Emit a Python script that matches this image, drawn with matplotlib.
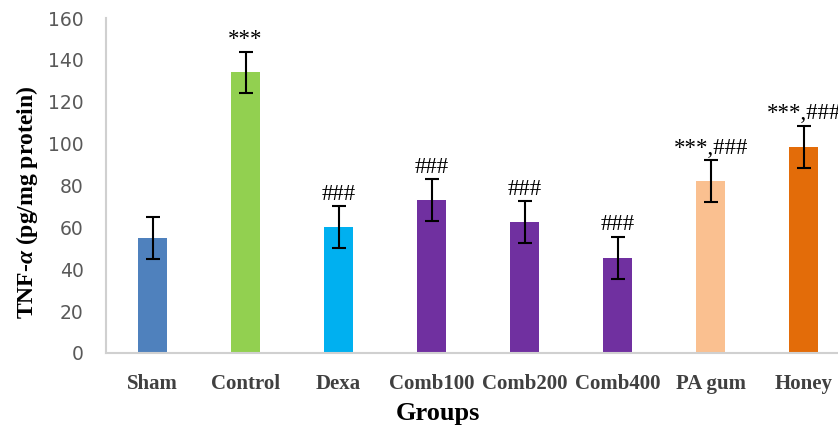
import matplotlib
matplotlib.use("Agg")
import matplotlib.pyplot as plt

groups = ["Sham", "Control", "Dexa", "Comb100", "Comb200", "Comb400", "PA gum", "Honey"]
tnf = [55, 134, 60, 73, 62.5, 45.5, 82, 98.5]
err = [10, 10, 10, 10, 10, 10, 10, 10]
marks = ["", "***", "###", "###", "###", "###", "***,###", "***,###"]
colors = ["#4F81BD", "#92D050", "#00B0F0", "#7030A0", "#7030A0", "#7030A0", "#FAC090", "#E36C09"]

plt.rcParams['mathtext.fontset'] = 'custom'
plt.rcParams['mathtext.it'] = 'Liberation Serif:bold:italic'
plt.rcParams['mathtext.rm'] = 'Liberation Serif:bold'

fig = plt.figure(figsize=(8.38, 4.30), dpi=100)
ax = fig.add_axes([106/838, 77/430, 1 - 106/838, 335/430])

x = range(len(groups))
ax.bar(x, tnf, width=0.32, color=colors, yerr=err,
	error_kw=dict(ecolor="black", elinewidth=1.5, capsize=5, capthick=1.5))

for i in x:
	if marks[i]:
		ax.annotate(marks[i], (i, tnf[i] + err[i]), xytext=(0, 1), textcoords="offset points",
			ha="center", va="bottom", fontsize=16.5, family="Liberation Serif")

ax.set_ylim(0, 160)
ax.set_xlim(-0.5, 7.37)
ax.set_yticks(range(0, 161, 20))
ax.set_xticks(list(x))
ax.set_xticklabels(groups, family="Liberation Serif", fontweight="bold", fontsize=15)
ax.tick_params(axis="y", labelsize=13.5, labelcolor="#595959", length=0, pad=16)
ax.tick_params(axis="x", length=0, pad=15, labelcolor="#404040")

for s in ["top", "right"]:
	ax.spines[s].set_visible(False)
for s in ["left", "bottom"]:
	ax.spines[s].set_color("#D0D0D0")
	ax.spines[s].set_linewidth(1.5)

ax.set_ylabel(r"TNF-$\alpha$ (pg/mg protein)", family="Liberation Serif", fontweight="bold",
	fontsize=17)
ax.yaxis.set_label_coords(-66/732, 0.45)
ax.set_xlabel("Groups", family="Liberation Serif", fontweight="bold", fontsize=19)
ax.xaxis.set_label_coords((438 - 106)/732, -49/335)

fig.savefig("out.png", dpi=100)
